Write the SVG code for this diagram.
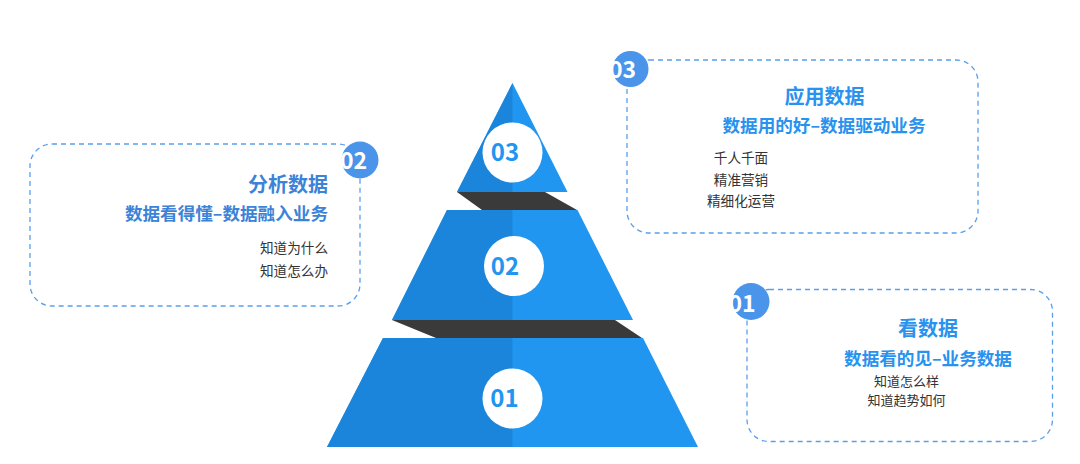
<svg xmlns="http://www.w3.org/2000/svg" width="1080" height="464" viewBox="0 0 1080 464">
<style>
.l{fill:#1A85DB}.r{fill:#2196F1}.dk{fill:#3A3A3A}
.wc{fill:#FFFFFF}
.num{font-family:"Noto Sans CJK SC","Open Sans",sans-serif;font-weight:700;font-size:24px;fill:#2196F1;text-anchor:middle}
.bnum{font-family:"Noto Sans CJK SC","Open Sans",sans-serif;font-weight:700;font-size:23px;fill:#FFFFFF;text-anchor:middle}
.badge{fill:#4A94EA}
.box{fill:none;stroke:#5B9FEA;stroke-width:1.3;stroke-dasharray:5 4}
.h1{font-family:"Noto Sans CJK SC",sans-serif;font-weight:700;font-size:20px}
.h2{font-family:"Noto Sans CJK SC",sans-serif;font-weight:700;font-size:17.6px}
.t{font-family:"Noto Sans CJK SC",sans-serif;font-size:13.6px;fill:#333333}
.ts{font-size:13px}
.bl{fill:#3C83D8}.br{fill:#2892EE}
</style>
<rect width="1080" height="464" fill="#FFFFFF"/>
<g id="pyramid">
  <polygon class="dk" points="457,192 545,192 577,210 482,210"/>
  <polygon class="dk" points="392,320 615,320 642,338 436,338"/>
  <g id="level3">
    <polygon class="r" points="512.5,83 567.5,192 457,192"/>
    <polygon class="l" points="512.5,83 457,192 512.5,192"/>
    <circle class="wc" cx="512.5" cy="152.5" r="30"/>
    <text class="num" x="505" y="161">03</text>
  </g>
  <g id="level2">
    <polygon class="r" points="447,210 577.5,210 633,320 392,320"/>
    <polygon class="l" points="447,210 512.5,210 512.5,320 392,320"/>
    <circle class="wc" cx="514" cy="266" r="30"/>
    <text class="num" x="505" y="274.5">02</text>
  </g>
  <g id="level1">
    <polygon class="r" points="383,338 643,338 698,447 327,447"/>
    <polygon class="l" points="383,338 512.5,338 512.5,447 327,447"/>
    <circle class="wc" cx="512.5" cy="398.5" r="30"/>
    <text class="num" x="504.5" y="406.5">01</text>
  </g>
</g>
<g id="box2">
  <rect class="box" x="30" y="144" width="330" height="162" rx="22"/>
  <circle class="badge" cx="360" cy="160" r="18.5"/>
  <text class="bnum" x="353.5" y="168.5">02</text>
  <text class="h1 bl" x="328" y="192" text-anchor="end">分析数据</text>
  <text class="h2 bl" x="328" y="220" text-anchor="end">数据看得懂–数据融入业务</text>
  <text class="t" x="328" y="253" text-anchor="end">知道为什么</text>
  <text class="t" x="328" y="276" text-anchor="end">知道怎么办</text>
</g>
<g id="box3">
  <rect class="box" x="627" y="60" width="351" height="173" rx="22"/>
  <circle class="badge" cx="630.5" cy="69" r="18"/>
  <text class="bnum" x="622.5" y="78">03</text>
  <text class="h1 br" x="824.5" y="103.5" text-anchor="middle">应用数据</text>
  <text class="h2 br" x="824" y="131.5" text-anchor="middle">数据用的好–数据驱动业务</text>
  <text class="t" x="741" y="163" text-anchor="middle">千人千面</text>
  <text class="t" x="741" y="184.5" text-anchor="middle">精准营销</text>
  <text class="t" x="741" y="206" text-anchor="middle">精细化运营</text>
</g>
<g id="box1">
  <rect class="box" x="747" y="289.5" width="305.5" height="152" rx="22"/>
  <circle class="badge" cx="751" cy="301.5" r="18.5"/>
  <text class="bnum" x="742" y="311.5">01</text>
  <text class="h1 br" x="928" y="335.5" text-anchor="middle">看数据</text>
  <text class="h2 br" x="928" y="364.5" text-anchor="middle">数据看的见–业务数据</text>
  <text class="t ts" x="906.5" y="386" text-anchor="middle">知道怎么样</text>
  <text class="t ts" x="906.5" y="404.5" text-anchor="middle">知道趋势如何</text>
</g>
</svg>
